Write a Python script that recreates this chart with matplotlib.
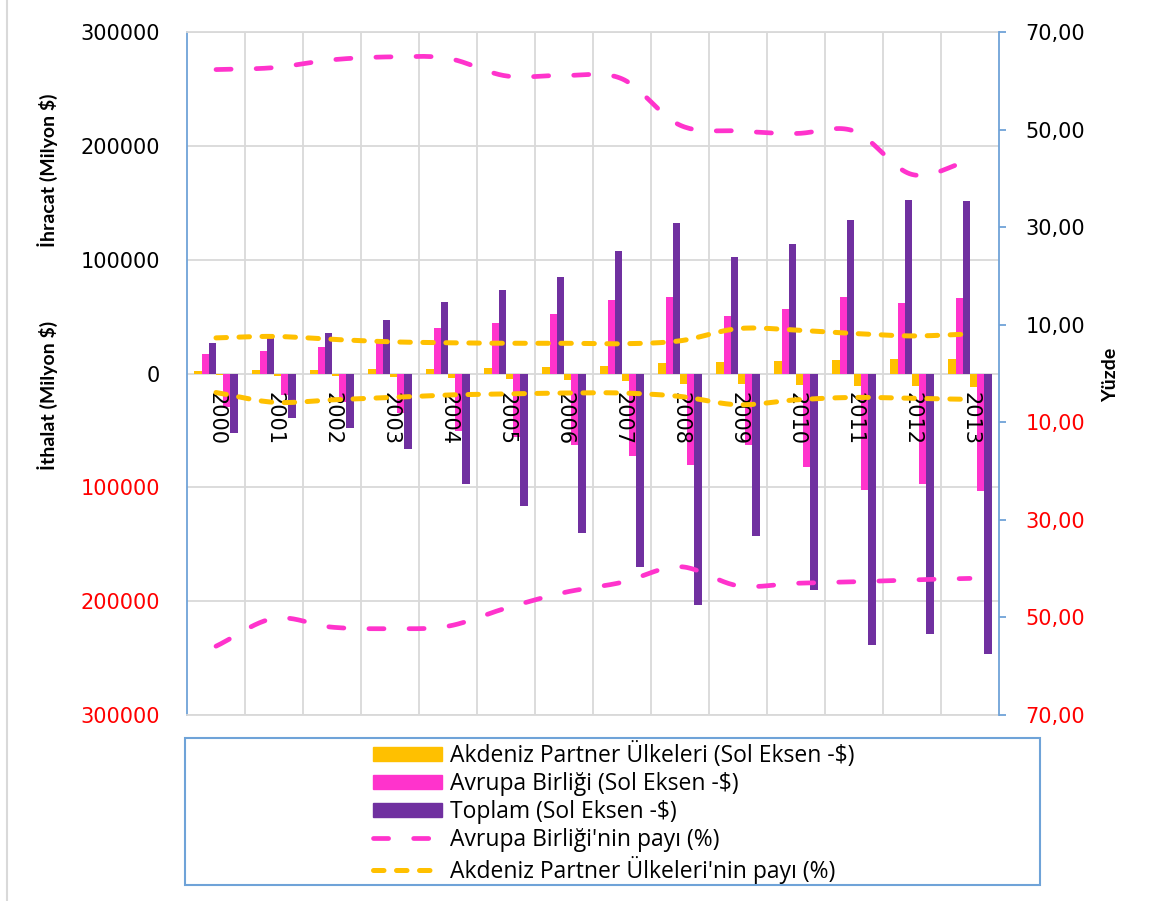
import matplotlib
matplotlib.use('Agg')
import matplotlib.pyplot as plt
from matplotlib.patches import Patch, Rectangle
from matplotlib.lines import Line2D
import numpy as np

# Yıllar
yillar = [2000, 2001, 2002, 2003, 2004, 2005, 2006, 2007, 2008, 2009, 2010, 2011, 2012, 2013]

# İhracat (Milyon $)
ihr_akdeniz = [2200, 2800, 2800, 3700, 4200, 4800, 5500, 7000, 9400, 10300, 10900, 11800, 12300, 12900]
ihr_ab = [16900, 19800, 23000, 29500, 40300, 44700, 52300, 64800, 67400, 50700, 56300, 67400, 61900, 66600]
ihr_toplam = [27100, 31000, 35400, 47100, 62900, 73200, 84900, 107300, 132300, 102000, 114000, 135200, 152800, 151900]

# İthalat (Milyon $)
ith_akdeniz = [1700, 2000, 2300, 2900, 4100, 4700, 5300, 6400, 8800, 8800, 9900, 10600, 11100, 11700]
ith_ab = [29300, 19300, 25200, 34900, 50100, 55400, 63000, 72700, 80000, 62400, 81800, 102300, 97000, 103500]
ith_toplam = [52200, 39300, 48100, 66500, 96700, 116700, 139800, 169700, 203400, 143100, 190000, 238600, 229000, 246500]

# Paylar (%)
ab_ihr_pay = [62.3, 62.7, 64.3, 64.9, 64.6, 61.0, 61.1, 60.4, 50.9, 49.7, 49.2, 49.7, 40.8, 43.7]
ab_ith_pay = [55.9, 50.2, 52.0, 52.3, 51.8, 48.1, 44.9, 42.8, 39.6, 43.5, 43.0, 42.7, 42.3, 42.0]
akd_ihr_pay = [7.3, 7.6, 7.0, 6.5, 6.3, 6.2, 6.2, 6.1, 6.7, 9.2, 8.9, 8.2, 7.7, 8.1]
akd_ith_pay = [3.9, 5.9, 5.4, 4.9, 4.4, 4.2, 4.0, 4.0, 4.7, 6.4, 5.4, 4.9, 5.1, 5.3]

etiketler = ["Akdeniz Partner Ülkeleri (Sol Eksen -$)", "Avrupa Birliği (Sol Eksen -$)",
             "Toplam (Sol Eksen -$)", "Avrupa Birliği'nin payı (%)",
             "Akdeniz Partner Ülkeleri'nin payı (%)"]

SARI = '#FFC000'
PEMBE = '#FF33CC'
MOR = '#7030A0'
MAVI = '#6FA3D8'
GRI = '#D9D9D9'
YAZI = ['Lato', 'DejaVu Sans']


def yumusat(x, y, n=24):
    # Excel'deki "düzgün çizgi" benzeri Catmull-Rom eğrisi
    x = np.asarray(x, float)
    y = np.asarray(y, float)
    px = np.concatenate([[2 * x[0] - x[1]], x, [2 * x[-1] - x[-2]]])
    py = np.concatenate([[2 * y[0] - y[1]], y, [2 * y[-1] - y[-2]]])
    t = np.linspace(0, 1, n, endpoint=False)
    xs, ys = [], []
    for i in range(1, len(px) - 2):
        for arr, out in ((px, xs), (py, ys)):
            p0, p1, p2, p3 = arr[i - 1:i + 3]
            out.extend(0.5 * (2 * p1 + (-p0 + p2) * t + (2 * p0 - 5 * p1 + 4 * p2 - p3) * t ** 2
                              + (-p0 + 3 * p1 - 3 * p2 + p3) * t ** 3))
    xs.append(x[-1])
    ys.append(y[-1])
    return np.array(xs), np.array(ys)


W, H = 1151, 901
fig = plt.figure(figsize=(W / 100, H / 100), dpi=100)
ax = fig.add_axes([187 / W, 186 / H, 812 / W, 683 / H])

x = np.arange(len(yillar))
w = 0.124
off = (np.arange(6) - 2.5) * w
ax.bar(x + off[0], ihr_akdeniz, w, color=SARI, zorder=2)
ax.bar(x + off[1], ihr_ab, w, color=PEMBE, zorder=2)
ax.bar(x + off[2], ihr_toplam, w, color=MOR, zorder=2)
ax.bar(x + off[3], -np.array(ith_akdeniz), w, color=SARI, zorder=2)
ax.bar(x + off[4], -np.array(ith_ab), w, color=PEMBE, zorder=2)
ax.bar(x + off[5], -np.array(ith_toplam), w, color=MOR, zorder=2)

ax.set_xlim(-0.5, len(yillar) - 0.5)
ax.set_ylim(-300000, 300000)
sol_ticks = np.arange(-300000, 300001, 100000)
ax.set_yticks(sol_ticks)
ax.set_yticklabels([str(abs(v)) for v in sol_ticks])
for v, lab in zip(sol_ticks, ax.get_yticklabels()):
    lab.set_color('red' if v < 0 else 'black')
ax.tick_params(axis='y', length=0, pad=19.5, labelsize=15)
ax.set_xticks(np.arange(0.5, len(yillar) - 1, 1))
ax.tick_params(axis='x', length=0, labelbottom=False)
ax.grid(True, color=GRI, lw=1.3, zorder=0)
ax.set_axisbelow(True)
for s in ('top', 'bottom'):
    ax.spines[s].set_color(GRI)
    ax.spines[s].set_linewidth(1.3)
ax.spines['left'].set_color(MAVI)
ax.spines['left'].set_linewidth(1.3)
ax.spines['right'].set_visible(False)

for i, yil in enumerate(yillar):
    ax.text(i, -16300, str(yil), rotation=270, ha='center', va='top', fontsize=15, zorder=5)

# Sağ eksen: paylar
ax2 = ax.twinx()
ax2.set_ylim(-70, 70)
sag_ticks = [-70, -50, -30, -10, 10, 30, 50, 70]
ax2.set_yticks(sag_ticks)
ax2.set_yticklabels([f"{abs(v):.2f}".replace('.', ',') for v in sag_ticks])
for v, lab in zip(sag_ticks, ax2.get_yticklabels()):
    lab.set_color('red' if v < 0 else 'black')
ax2.tick_params(axis='y', direction='out', length=5, width=1.3, color=MAVI, pad=14, labelsize=15)
for s in ('top', 'bottom', 'left'):
    ax2.spines[s].set_visible(False)
ax2.spines['right'].set_color(MAVI)
ax2.spines['right'].set_linewidth(1.3)

pembe_stil = dict(color=PEMBE, lw=3.4, dashes=(3.2, 5.3), dash_capstyle='round')
sari_stil = dict(color=SARI, lw=3.6, dashes=(2.1, 2.5), dash_capstyle='round')
sx, sy = yumusat(x, ab_ihr_pay)
ax2.plot(sx, sy, **pembe_stil)
sx, sy = yumusat(x, -np.array(ab_ith_pay))
ax2.plot(sx, sy, **pembe_stil)
sx, sy = yumusat(x, akd_ihr_pay)
ax2.plot(sx, sy, **sari_stil)
sx, sy = yumusat(x, -np.array(akd_ith_pay))
ax2.plot(sx, sy, **sari_stil)

# Eksen başlıkları
fig.text(48 / W, 1 - 170 / H, 'İhracat (Milyon $)', rotation=90, ha='center', va='center',
         fontsize=14, fontweight='bold', family=YAZI)
fig.text(48 / W, 1 - 395 / H, 'İthalat (Milyon $)', rotation=90, ha='center', va='center',
         fontsize=14, fontweight='bold', family=YAZI)
fig.text(1111 / W, 1 - 375 / H, 'Yüzde', rotation=90, ha='center', va='center',
         fontsize=14, fontweight='bold', family=YAZI)

# Lejant
fig.add_artist(Rectangle((185 / W, 1 - 885 / H), 855 / W, 147 / H, transform=fig.transFigure,
                         fill=False, edgecolor=MAVI, lw=1.5))
fig.add_artist(Line2D([7 / W, 7 / W], [0, 1], color=GRI, lw=1.5, transform=fig.transFigure))
handles = [Patch(color=SARI), Patch(color=PEMBE), Patch(color=MOR),
           Line2D([], [], **pembe_stil), Line2D([], [], **sari_stil)]
fig.legend(handles, etiketler, loc='center', bbox_to_anchor=(614 / W, 1 - 813 / H),
           frameon=False, handlelength=3.0, handleheight=0.6, handletextpad=0.35,
           labelspacing=0.17, prop={'family': ['Open Sans', 'DejaVu Sans'], 'size': 16.5})

fig.savefig('out.png', dpi=100)
